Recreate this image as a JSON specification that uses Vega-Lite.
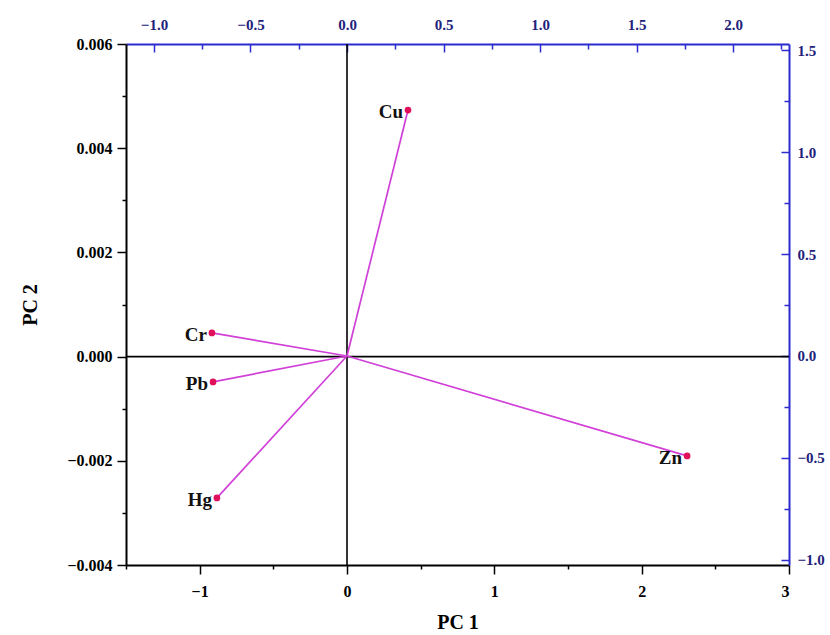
{
  "$schema": "https://vega.github.io/schema/vega-lite/v6.json",
  "width": 663,
  "height": 521,
  "autosize": "none",
  "padding": {"left": 126, "top": 44, "right": 41, "bottom": 70},
  "background": "white",
  "config": {
    "view": {"stroke": null},
    "axis": {
      "labelFont": "Liberation Serif",
      "labelFontWeight": "bold",
      "labelFontSize": 16,
      "titleFont": "Liberation Serif",
      "titleFontWeight": "bold",
      "titleFontSize": 20,
      "grid": false,
      "domainWidth": 2,
      "tickWidth": 1.5
    }
  },
  "datasets": {
    "loadings": [
      {"element": "Cu", "pc1": 0.316, "pc2": 1.206},
      {"element": "Cr", "pc1": -0.700, "pc2": 0.113},
      {"element": "Pb", "pc1": -0.694, "pc2": -0.127},
      {"element": "Hg", "pc1": -0.674, "pc2": -0.696},
      {"element": "Zn", "pc1": 1.762, "pc2": -0.490}
    ],
    "origin": [
      {"x0": 0, "y0": 0}
    ]
  },
  "resolve": {"scale": {"x": "independent", "y": "independent"}, "axis": {"x": "independent", "y": "independent"}},
  "layer": [
    {
      "data": {"name": "origin"},
      "layer": [
        {
          "mark": {"type": "rule", "color": "black", "strokeWidth": 1.6},
          "encoding": {
            "x": {"field": "x0", "type": "quantitative",
              "scale": {"domain": [-1.5, 3], "nice": false, "zero": false},
              "axis": {"orient": "bottom", "title": "PC 1", "titlePadding": 13,
                "values": [-1.5, -1, -0.5, 0, 0.5, 1, 1.5, 2, 2.5, 3],
                "labelExpr": "abs(datum.value - round(datum.value)) < 1e-6 ? format(datum.value, 'd') : ''",
                "tickSize": {"condition": {"test": "abs(datum.value - round(datum.value)) < 1e-6", "value": 9}, "value": 4},
                "domainColor": "black", "tickColor": "black", "labelColor": "black", "titleColor": "black", "labelPadding": 9}
            }
          }
        },
        {
          "mark": {"type": "rule", "color": "black", "strokeWidth": 1.6},
          "encoding": {
            "y": {"field": "y0", "type": "quantitative",
              "scale": {"domain": [-0.004, 0.006], "nice": false, "zero": false},
              "axis": {"orient": "left", "title": "PC 2", "titlePadding": 26,
                "values": [-0.004, -0.003, -0.002, -0.001, 0, 0.001, 0.002, 0.003, 0.004, 0.005, 0.006],
                "labelExpr": "abs(datum.value/0.002 - round(datum.value/0.002)) < 1e-6 ? format(datum.value, '.3f') : ''",
                "tickSize": {"condition": {"test": "abs(datum.value/0.002 - round(datum.value/0.002)) < 1e-6", "value": 9}, "value": 4},
                "domainColor": "black", "tickColor": "black", "labelColor": "black", "titleColor": "black", "labelPadding": 5}
            }
          }
        }
      ]
    },
    {
      "data": {"name": "loadings"},
      "layer": [
        {
          "mark": {"type": "rule", "color": "#d040d8", "strokeWidth": 1.7},
          "encoding": {
            "x2": {"datum": 0},
            "y2": {"datum": 0}
          }
        },
        {
          "mark": {"type": "point", "filled": true, "color": "#e0105a", "size": 45, "opacity": 1},
          "encoding": {}
        },
        {
          "mark": {"type": "text", "align": "right", "baseline": "middle", "dx": -5, "dy": 2, "font": "Liberation Serif", "fontWeight": "bold", "fontSize": 19, "color": "#111111"},
          "encoding": {
            "text": {"field": "element"}
          }
        }
      ],
      "encoding": {
        "x": {"field": "pc1", "type": "quantitative",
          "scale": {"domain": [-1.145, 2.29], "nice": false, "zero": false},
          "axis": {"orient": "top", "title": null,
            "values": [-1, -0.75, -0.5, -0.25, 0, 0.25, 0.5, 0.75, 1, 1.25, 1.5, 1.75, 2, 2.25],
            "labelExpr": "abs(datum.value*2 - round(datum.value*2)) < 1e-6 ? format(datum.value, '.1f') : ''",
            "tickSize": {"condition": {"test": "abs(datum.value*2 - round(datum.value*2)) < 1e-6", "value": -8}, "value": -5},
            "labelFontSize": 15,
            "domainColor": "#2b2bd0", "tickColor": "#2b2bd0", "labelColor": "#22227a", "labelPadding": 20}
        },
        "y": {"field": "pc2", "type": "quantitative",
          "scale": {"domain": [-1.025, 1.53], "nice": false, "zero": false},
          "axis": {"orient": "right", "title": null,
            "values": [-1, -0.75, -0.5, -0.25, 0, 0.25, 0.5, 0.75, 1, 1.25, 1.5],
            "labelExpr": "abs(datum.value*2 - round(datum.value*2)) < 1e-6 ? format(datum.value, '.1f') : ''",
            "tickSize": {"condition": {"test": "abs(datum.value*2 - round(datum.value*2)) < 1e-6", "value": -8}, "value": -5},
            "labelFontSize": 15,
            "domainColor": "#2b2bd0", "tickColor": "#2b2bd0", "labelColor": "#22227a", "labelPadding": 16}
        }
      }
    }
  ]
}
